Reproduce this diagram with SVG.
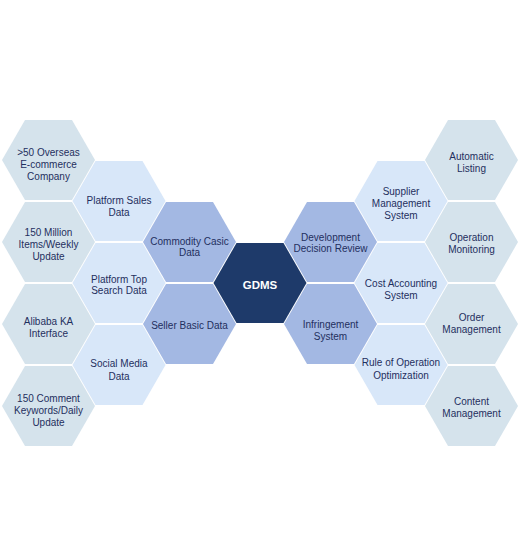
<svg xmlns="http://www.w3.org/2000/svg" xmlns:xlink="http://www.w3.org/1999/xlink" width="520" height="558" viewBox="0 0 520 558">
<style>
.c1{fill:#d5e3ec}
.c2{fill:#d8e7f9}
.c3{fill:#a3b8e3}
.c4{fill:#1e3a6a}
text{font-family:"Liberation Sans","Noto Sans",Arial,sans-serif;font-size:10px;fill:#1f2f5e;text-anchor:middle}
.w{fill:#ffffff;font-weight:bold;font-size:11.5px}
</style>
<defs>
<polygon id="hex" points="-46.5,0 -23.5,-40 23.5,-40 46.5,0 23.5,40 -23.5,40"/>
</defs>
<rect width="520" height="558" fill="#ffffff"/>
<g id="connectors"/>
<g id="n_overseas"><use xlink:href="#hex" x="48.5" y="160" class="c1"/><text x="48.5" y="156">&gt;50 Overseas</text><text x="48.5" y="168">E-commerce</text><text x="48.5" y="179.5">Company</text></g>
<g id="n_million"><use xlink:href="#hex" x="48.5" y="242" class="c1"/><text x="48.5" y="235.5">150 Million</text><text x="48.5" y="247.5">Items/Weekly</text><text x="48.5" y="259.5">Update</text></g>
<g id="n_alibaba"><use xlink:href="#hex" x="48.5" y="324" class="c1"/><text x="48.5" y="324.5">Alibaba KA</text><text x="48.5" y="336.5">Interface</text></g>
<g id="n_comment"><use xlink:href="#hex" x="48.5" y="406" class="c1"/><text x="48.5" y="401.5">150 Comment</text><text x="48.5" y="413.5">Keywords/Daily</text><text x="48.5" y="425.5">Update</text></g>
<g id="n_sales"><use xlink:href="#hex" x="119" y="201" class="c2"/><text x="119" y="203.5">Platform Sales</text><text x="119" y="215.5">Data</text></g>
<g id="n_search"><use xlink:href="#hex" x="119" y="283" class="c2"/><text x="119" y="282.5">Platform Top</text><text x="119" y="294">Search Data</text></g>
<g id="n_social"><use xlink:href="#hex" x="119" y="365" class="c2"/><text x="119" y="367">Social Media</text><text x="119" y="379.5">Data</text></g>
<g id="n_commodity"><use xlink:href="#hex" x="189.5" y="242" class="c3"/><text x="189.5" y="244.5">Commodity Casic</text><text x="189.5" y="256">Data</text></g>
<g id="n_seller"><use xlink:href="#hex" x="189.5" y="324" class="c3"/><text x="189.5" y="328.5">Seller Basic Data</text></g>
<g id="n_gdms"><use xlink:href="#hex" x="260" y="283" class="c4"/><text class="w" x="260" y="289">GDMS</text></g>
<g id="n_development"><use xlink:href="#hex" x="330.5" y="242" class="c3"/><text x="330.5" y="240.5">Development</text><text x="330.5" y="252">Decision Review</text></g>
<g id="n_infringement"><use xlink:href="#hex" x="330.5" y="324" class="c3"/><text x="330.5" y="327.5">Infringement</text><text x="330.5" y="339.5">System</text></g>
<g id="n_supplier"><use xlink:href="#hex" x="401" y="201" class="c2"/><text x="401" y="194.5">Supplier</text><text x="401" y="206.5">Management</text><text x="401" y="218.5">System</text></g>
<g id="n_cost"><use xlink:href="#hex" x="401" y="283" class="c2"/><text x="401" y="287">Cost Accounting</text><text x="401" y="298.5">System</text></g>
<g id="n_rule"><use xlink:href="#hex" x="401" y="365" class="c2"/><text x="401" y="366">Rule of Operation</text><text x="401" y="378.5">Optimization</text></g>
<g id="n_listing"><use xlink:href="#hex" x="471.5" y="160" class="c1"/><text x="471.5" y="159.5">Automatic</text><text x="471.5" y="171.5">Listing</text></g>
<g id="n_monitoring"><use xlink:href="#hex" x="471.5" y="242" class="c1"/><text x="471.5" y="241">Operation</text><text x="471.5" y="252.5">Monitoring</text></g>
<g id="n_order"><use xlink:href="#hex" x="471.5" y="324" class="c1"/><text x="471.5" y="321">Order</text><text x="471.5" y="333">Management</text></g>
<g id="n_content"><use xlink:href="#hex" x="471.5" y="406" class="c1"/><text x="471.5" y="405">Content</text><text x="471.5" y="417">Management</text></g>
</svg>
